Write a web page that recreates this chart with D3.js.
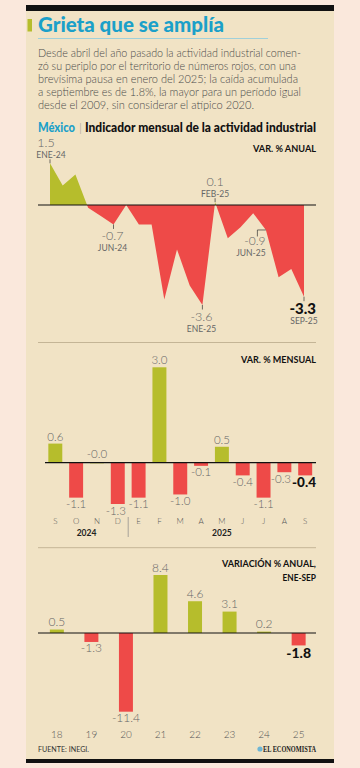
<!DOCTYPE html>
<html><head><meta charset="utf-8">
<script src="https://cdn.jsdelivr.net/npm/d3@7"></script>
<style>
html,body{margin:0;padding:0;background:#fae8dc;}
svg{display:block;font-family:Lato,"Open Sans",sans-serif;}
</style></head>
<body>
<svg id="c" width="360" height="768"></svg>
<script>
// ---------- DATA ----------
const areaMonths = ["ENE-24","FEB-24","MAR-24","ABR-24","MAY-24","JUN-24","JUL-24","AGO-24","SEP-24","OCT-24","NOV-24","DIC-24","ENE-25","FEB-25","MAR-25","ABR-25","MAY-25","JUN-25","JUL-25","AGO-25","SEP-25"];
const areaValues = [1.5, 0.7, 1.1, -0.1, -0.4, -0.7, 0.0, -0.7, -0.7, -3.4, -1.6, -2.9, -3.6, 0.1, -1.2, -0.8, -0.3, -0.9, -2.6, -2.3, -3.3];
const areaCallouts = [
  {i:0, label:"1.5", month:"ENE-24"},
  {i:5, label:"-0.7", month:"JUN-24"},
  {i:12, label:"-3.6", month:"ENE-25"},
  {i:13, label:"0.1", month:"FEB-25"},
  {i:17, label:"-0.9", month:"JUN-25"},
  {i:20, label:"-3.3", month:"SEP-25"}
];
const monthLetters = ["S","O","N","D","E","F","M","A","M","J","J","A","S"];
const monthlyValues = [0.6, -1.1, -0.02, -1.3, -1.1, 3.0, -1.0, -0.1, 0.5, -0.4, -1.1, -0.3, -0.4];
const monthlyYears = ["2024","2025"];
const years = ["18","19","20","21","22","23","24","25"];
const annualValues = [0.5, -1.3, -11.4, 8.4, 4.6, 3.1, 0.2, -1.8];

const titleText = "Grieta que se amplía";
const bodyLines = [
  "Desde abril del año pasado la actividad industrial comen-",
  "zó su periplo por el territorio de números rojos, con una",
  "brevísima pausa en enero del 2025; la caída acumulada",
  "a septiembre es de 1.8%, la mayor para un período igual",
  "desde el 2009, sin considerar el atípico 2020."
];

// ---------- STYLE ----------
const GREEN = "#b6bd2c", RED = "#ee4a48", CYAN = "#1ba0c9", GREY = "#666", PANEL = "#f1e3c5";
const L = 38, R = 316;
const svg = d3.select("#c");
const fmt = v => v.toFixed(1);

// background panel
svg.append("rect").attr("x",26).attr("y",5).attr("width",308).attr("height",758).attr("fill",PANEL);
svg.append("rect").attr("x",26).attr("y",5).attr("width",308).attr("height",6).attr("fill","#111");
svg.append("rect").attr("x",26).attr("y",759).attr("width",308).attr("height",4).attr("fill","#111");
svg.append("rect").attr("x",27.5).attr("y",19).attr("width",4.5).attr("height",12.5).attr("fill",GREEN);

// title
svg.append("text").attr("x",L).attr("y",32).attr("font-size",20).attr("font-weight",900)
  .attr("fill",CYAN).attr("textLength",186).attr("lengthAdjust","spacingAndGlyphs").text(titleText);
svg.append("line").attr("x1",L).attr("x2",268).attr("y1",38.5).attr("y2",38.5).attr("stroke","#8ccbe0").attr("stroke-width",0.8);

const bodyWidths = [263, 258, 260, 263, 216];
bodyLines.forEach((t,i)=>{
  svg.append("text").attr("x",L).attr("y",56.5+i*13.1).attr("font-size",11).attr("font-weight",300)
    .attr("fill","#4a4a4a").attr("textLength",bodyWidths[i]).attr("lengthAdjust","spacingAndGlyphs").text(t);
});

// section header
svg.append("text").attr("x",L).attr("y",132.3).attr("font-size",12.5).attr("font-weight",900).attr("fill",CYAN)
  .attr("textLength",37).attr("lengthAdjust","spacingAndGlyphs").text("México");
svg.append("text").attr("x",79).attr("y",132.3).attr("font-size",12.5).attr("font-weight",300).attr("fill","#999").text("|");
svg.append("text").attr("x",85).attr("y",132.3).attr("font-size",12.5).attr("font-weight",900).attr("fill","#111")
  .attr("textLength",231).attr("lengthAdjust","spacingAndGlyphs").text("Indicador mensual de la actividad industrial");

function unitLabel(text, y, w){
  svg.append("text").attr("x",R).attr("y",y).attr("text-anchor","end").attr("font-size",8.5).attr("font-weight",700)
    .attr("fill","#111").attr("textLength",w).attr("lengthAdjust","spacingAndGlyphs").text(text);
}

// ---------- AREA CHART ----------
const xA = d3.scalePoint().domain(d3.range(areaValues.length)).range([50,304]);
const yA = d3.scaleLinear().domain([-3.6,1.5]).range([305,163.3]);
unitLabel("VAR. % ANUAL", 151.7, 63);

const defs = svg.append("defs");
defs.append("clipPath").attr("id","above").append("rect").attr("x",0).attr("y",0).attr("width",360).attr("height",yA(0));
defs.append("clipPath").attr("id","below").append("rect").attr("x",0).attr("y",yA(0)).attr("width",360).attr("height",400);
const area = d3.area().x((d,i)=>xA(i)).y0(yA(0)).y1(d=>yA(d));
svg.append("path").datum(areaValues).attr("d",area).attr("fill",GREEN).attr("clip-path","url(#above)");
svg.append("path").datum(areaValues).attr("d",area).attr("fill",RED).attr("clip-path","url(#below)");
svg.append("line").attr("x1",L).attr("x2",R).attr("y1",yA(0)).attr("y2",yA(0)).attr("stroke","#111").attr("stroke-width",1.2);

areaCallouts.forEach(c=>{
  const px = xA(c.i), py = yA(areaValues[c.i]);
  const g = svg.append("g");
  if (c.month==="JUN-25"){
    g.append("path").attr("d",`M${px},${py}H${px-8.5}V${py+6.5}`).attr("fill","none").attr("stroke","#333").attr("stroke-width",0.7);
    g.append("text").attr("x",px-11).attr("y",py+15).attr("text-anchor","middle").attr("font-size",12).attr("font-weight",300).attr("fill",GREY).text(c.label);
    g.append("text").attr("x",px-15).attr("y",py+26.5).attr("text-anchor","middle").attr("font-size",8.5).attr("fill",GREY).text(c.month);
    return;
  }
  const up = areaValues[c.i] >= 0;
  if (up){
    g.append("line").attr("x1",px).attr("x2",px).attr("y1",py-4).attr("y2",py).attr("stroke","#333").attr("stroke-width",0.7);
    g.append("text").attr("x",c.i===0?px-4:px).attr("y",py-16.5).attr("text-anchor","middle").attr("font-size",12.5).attr("font-weight",300).attr("fill",GREY).text(c.label);
    g.append("text").attr("x",c.i===0?px+1:px).attr("y",py-5.5).attr("text-anchor","middle").attr("font-size",8.5).attr("fill",GREY).text(c.month);
  } else {
    g.append("line").attr("x1",px).attr("x2",px).attr("y1",py).attr("y2",py+4.5).attr("stroke","#333").attr("stroke-width",0.7);
    if (c.i===areaValues.length-1){
      g.append("text").attr("x",R).attr("y",py+17.5).attr("text-anchor","end").attr("font-size",15).attr("font-weight",900).attr("fill","#111").text(c.label);
      g.append("text").attr("x",px).attr("y",py+27.5).attr("text-anchor","middle").attr("font-size",8.5).attr("fill",GREY).text(c.month);
    } else {
      g.append("text").attr("x",px-1).attr("y",py+15.5).attr("text-anchor","middle").attr("font-size",12.5).attr("font-weight",300).attr("fill",GREY).text(c.label);
      g.append("text").attr("x",px-1).attr("y",py+26.5).attr("text-anchor","middle").attr("font-size",8.5).attr("fill",GREY).text(c.month);
    }
  }
});

svg.append("line").attr("x1",L).attr("x2",R).attr("y1",342.5).attr("y2",342.5).attr("stroke","#b9a98a").attr("stroke-width",0.8);

// ---------- MONTHLY BARS ----------
unitLabel("VAR. % MENSUAL", 363.3, 75);
const xM = d3.scaleBand().domain(d3.range(monthlyValues.length)).range([45,315.5]).paddingInner(0.33).paddingOuter(0.16);
const yM = d3.scaleLinear().domain([-1.3,3.0]).range([504,367.3]);
svg.append("g").selectAll("rect").data(monthlyValues).join("rect")
  .attr("x",(d,i)=>xM(i)).attr("width",xM.bandwidth())
  .attr("y",d=>yM(Math.max(0,d))).attr("height",d=>Math.abs(yM(d)-yM(0)))
  .attr("fill",d=>d>=-0.05?GREEN:RED);
svg.append("line").attr("x1",45).attr("x2",R).attr("y1",yM(0)).attr("y2",yM(0)).attr("stroke","#111").attr("stroke-width",1.2);
const labelShift = [0,0,0,-2,0,0,0,0,0,0,0,-3.5,0];
monthlyValues.forEach((v,i)=>{
  const cx = xM(i)+xM.bandwidth()/2 + labelShift[i];
  if (i===monthlyValues.length-1){
    svg.append("text").attr("x",R).attr("y",yM(v)+11.5).attr("text-anchor","end").attr("font-size",13.5).attr("font-weight",900).attr("fill","#111").text(fmt(v));
    return;
  }
  const above = v >= -0.05;
  svg.append("text").attr("x",cx).attr("y",above ? yM(Math.max(v,0))-3 - (v<0?1.5:0) : yM(v)+10.5)
    .attr("text-anchor","middle").attr("font-size",11.5).attr("font-weight",300).attr("fill",GREY).text(fmt(v));
});
monthLetters.forEach((m,i)=>{
  svg.append("text").attr("x",xM(i)+xM.bandwidth()/2).attr("y",524).attr("text-anchor","middle")
    .attr("font-size",8).attr("font-weight",300).attr("fill","#555").text(m);
});
const divX = (xM(3)+xM.bandwidth()+xM(4))/2;
svg.append("line").attr("x1",divX).attr("x2",divX).attr("y1",517).attr("y2",537).attr("stroke","#888").attr("stroke-width",0.7);
svg.append("text").attr("x",(xM(0)+xM(3)+xM.bandwidth())/2).attr("y",535.5).attr("text-anchor","middle").attr("font-size",8.5).attr("font-weight",700).attr("fill","#222").text(monthlyYears[0]);
svg.append("text").attr("x",(xM(4)+xM(12)+xM.bandwidth())/2).attr("y",535.5).attr("text-anchor","middle").attr("font-size",8.5).attr("font-weight",700).attr("fill","#222").text(monthlyYears[1]);

svg.append("line").attr("x1",L).attr("x2",R).attr("y1",547.7).attr("y2",547.7).attr("stroke","#b9a98a").attr("stroke-width",0.8);

// ---------- ANNUAL BARS ----------
unitLabel("VARIACIÓN % ANUAL,", 567.3, 94);
unitLabel("ENE-SEP", 580.7, 33.5);
const xY = d3.scaleBand().domain(years).range([39.5,316]).paddingInner(0.595).paddingOuter(0.3);
const yY = d3.scaleLinear().domain([-11.4,8.4]).range([711.7,575]);
svg.append("g").selectAll("rect").data(annualValues).join("rect")
  .attr("x",(d,i)=>xY(years[i])).attr("width",xY.bandwidth())
  .attr("y",d=>yY(Math.max(0,d))).attr("height",d=>Math.abs(yY(d)-yY(0)))
  .attr("fill",d=>d>=0?GREEN:RED);
svg.append("line").attr("x1",L).attr("x2",R).attr("y1",yY(0)).attr("y2",yY(0)).attr("stroke","#111").attr("stroke-width",1.2);
annualValues.forEach((v,i)=>{
  const cx = xY(years[i])+xY.bandwidth()/2;
  if (i===annualValues.length-1){
    svg.append("text").attr("x",cx).attr("y",yY(v)+12.5).attr("text-anchor","middle").attr("font-size",14).attr("font-weight",900).attr("fill","#111").text(fmt(v));
    return;
  }
  svg.append("text").attr("x",cx).attr("y",v>=0 ? yY(v)-3.2 : yY(v)+10.5).attr("text-anchor","middle")
    .attr("font-size",12).attr("font-weight",300).attr("fill",GREY).text(fmt(v));
});
years.forEach(yv=>{
  svg.append("text").attr("x",xY(yv)+xY.bandwidth()/2).attr("y",737.5).attr("text-anchor","middle")
    .attr("font-size",10).attr("font-weight",300).attr("fill","#555").text(yv);
});

// ---------- FOOTER ----------
svg.append("text").attr("x",L).attr("y",752).attr("font-size",8).attr("fill","#333")
  .attr("textLength",51).attr("lengthAdjust","spacingAndGlyphs").text("FUENTE: INEGI.");
svg.append("circle").attr("cx",260).attr("cy",749).attr("r",2.6).attr("fill","#6fb6d4");
svg.append("text").attr("x",R).attr("y",752).attr("text-anchor","end").attr("font-size",8).attr("font-weight",700)
  .attr("font-family","'Liberation Serif',serif").attr("fill","#222")
  .attr("textLength",53).attr("lengthAdjust","spacingAndGlyphs").text("EL ECONOMISTA");
</script>
</body></html>
